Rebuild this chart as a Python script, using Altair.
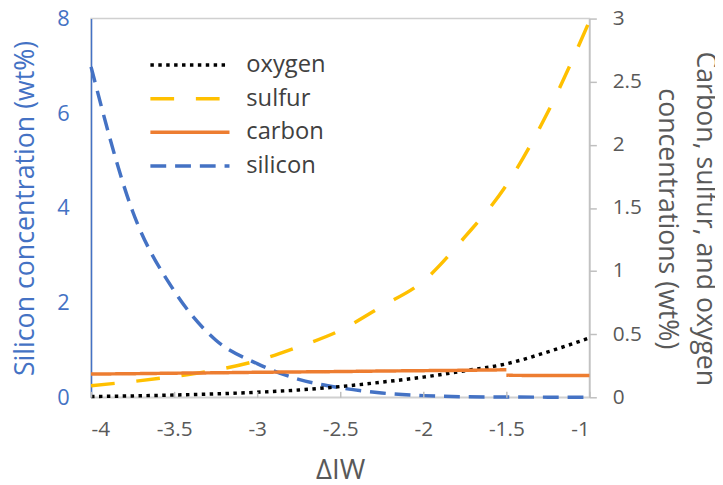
import altair as alt
import pandas as pd

# ---- data ----
x_vals = [-4, -3.75, -3.5, -3.25, -3, -2.75, -2.5, -2.25, -2, -1.75, -1.5, -1.25, -1]
silicon = [6.98, 3.93, 2.25, 1.21, 0.71, 0.38, 0.20, 0.09, 0.035, 0.012, 0.006, 0.003, 0.002]
oxygen = [0.006, 0.011, 0.018, 0.027, 0.04, 0.058, 0.085, 0.12, 0.16, 0.21, 0.265, 0.36, 0.47]
sulfur = [0.092, 0.125, 0.165, 0.215, 0.29, 0.40, 0.53, 0.72, 0.92, 1.27, 1.68, 2.26, 2.98]
carbon_x1 = [-4, -3.75, -3.5, -3.25, -3, -2.75, -2.5, -2.25, -2, -1.75, -1.5]
carbon_y1 = [0.184, 0.187, 0.191, 0.194, 0.198, 0.201, 0.204, 0.208, 0.211, 0.214, 0.218]
carbon_x2 = [-1.5, -1.25, -1]
carbon_y2 = [0.174, 0.173, 0.173]

series_order = ["oxygen", "sulfur", "carbon", "silicon"]
series_colors = ["#000000", "#FFC000", "#ED7D31", "#4472C4"]
series_dashes = [[3.5, 4.5], [24, 22], [1, 0], [16, 9]]

x_ticks = [-4, -3.5, -3, -2.5, -2, -1.5, -1]
left_ticks = [0, 2, 4, 6, 8]
right_ticks = [0, 0.5, 1, 1.5, 2, 2.5, 3]

rows = []
for xv, v in zip(x_vals, silicon):
    rows.append({"series": "silicon", "seg": "si", "x": xv, "y": v})
for xv, v in zip(x_vals, oxygen):
    rows.append({"series": "oxygen", "seg": "o", "x": xv, "y": v})
for xv, v in zip(x_vals, sulfur):
    rows.append({"series": "sulfur", "seg": "s", "x": xv, "y": v})
for xv, v in zip(carbon_x1, carbon_y1):
    rows.append({"series": "carbon", "seg": "c1", "x": xv, "y": v})
for xv, v in zip(carbon_x2, carbon_y2):
    rows.append({"series": "carbon", "seg": "c2", "x": xv, "y": v})
df = pd.DataFrame(rows)

FONT = "Open Sans"
GRAY = "#595959"
BLUE = "#4472C4"
LINE_GRAY = "#D0D0D0"
TICK_GRAY = "#BFBFBF"

legend = alt.Legend(
    title=None, orient="none", legendX=58, legendY=34,
    symbolType="stroke", symbolSize=6400, symbolStrokeWidth=3.5,
    clipHeight=26, rowPadding=8,
    labelFont=FONT, labelFontSize=24, labelColor="#404040",
    labelOffset=15,
)
color = alt.Color("series:N", scale=alt.Scale(domain=series_order, range=series_colors), legend=legend)
dash = alt.StrokeDash("series:N", scale=alt.Scale(domain=series_order, range=series_dashes), legend=legend)

x_scale = alt.Scale(domain=[-4, -1], nice=False, zero=False)

x_main = alt.X(
    "x:Q", scale=x_scale,
    axis=alt.Axis(
        values=x_ticks, title="ΔIW", labelExpr="toString(datum.value)",
        labelFont=FONT, labelFontSize=21, labelColor=GRAY, labelPadding=22,
        ticks=False, tickSize=0, domainColor=LINE_GRAY, domainWidth=1.5, grid=False,
        titleFont=FONT, titleFontSize=28, titleFontWeight="normal", titleColor=GRAY,
        titlePadding=17,
    ),
)
# inward tick marks on the bottom edge (an extra tick-only axis moved into the plot)
x_ticks_axis = alt.X(
    "x:Q", scale=x_scale,
    axis=alt.Axis(
        values=x_ticks, orient="bottom", offset=-6, labels=False, domain=False,
        ticks=True, tickSize=6, tickColor=TICK_GRAY, tickWidth=1.5, grid=False,
        title=None, zindex=1,
    ),
)

si = alt.Chart(df).transform_filter("datum.series == 'silicon'").mark_line(
    strokeWidth=3.5, interpolate="monotone", strokeCap="butt"
).encode(
    x=x_main,
    y=alt.Y(
        "y:Q",
        scale=alt.Scale(domain=[0, 8], nice=False),
        axis=alt.Axis(
            values=left_ticks, orient="left", title="Silicon concentration (wt%)",
            labelExpr="toString(datum.value)",
            labelFont=FONT, labelFontSize=22, labelColor=BLUE, labelPadding=22,
            ticks=False, tickSize=0, domainColor=BLUE, domainWidth=1.5, grid=False,
            titleFont=FONT, titleFontSize=27, titleFontWeight="normal", titleColor=BLUE,
            titlePadding=18,
        ),
    ),
    color=color,
    strokeDash=dash,
    detail="seg:N",
)

others = alt.Chart(df).transform_filter("datum.series != 'silicon'").mark_line(
    strokeWidth=3.5, interpolate="monotone", strokeCap="butt"
).encode(
    x=x_ticks_axis,
    y=alt.Y(
        "y:Q",
        scale=alt.Scale(domain=[0, 3], nice=False),
        axis=alt.Axis(
            values=right_ticks, orient="right",
            title=["Carbon, sulfur, and oxygen", "concentrations (wt%)"],
            labelExpr="toString(datum.value)",
            labelFont=FONT, labelFontSize=21, labelColor=GRAY, labelPadding=16,
            ticks=True, tickSize=7, tickColor=TICK_GRAY, tickWidth=1.5,
            domainColor=TICK_GRAY, domainWidth=1.5, grid=False,
            titleFont=FONT, titleFontSize=27, titleFontWeight="normal", titleColor=GRAY,
            titlePadding=11, titleAngle=90, titleLineHeight=39, titleY=202,
        ),
    ),
    color=color,
    strokeDash=dash,
    detail="seg:N",
)

chart = alt.layer(si, others).resolve_scale(y="independent").resolve_axis(
    x="independent"
).properties(
    width=504, height=383,
    autosize=alt.AutoSizeParams(type="none"),
    padding={"left": 84, "top": 8, "right": 127, "bottom": 86},
).configure_view(stroke=LINE_GRAY, strokeWidth=1.5)

chart.save("out.html", embed_options={"renderer": "svg", "actions": False})
